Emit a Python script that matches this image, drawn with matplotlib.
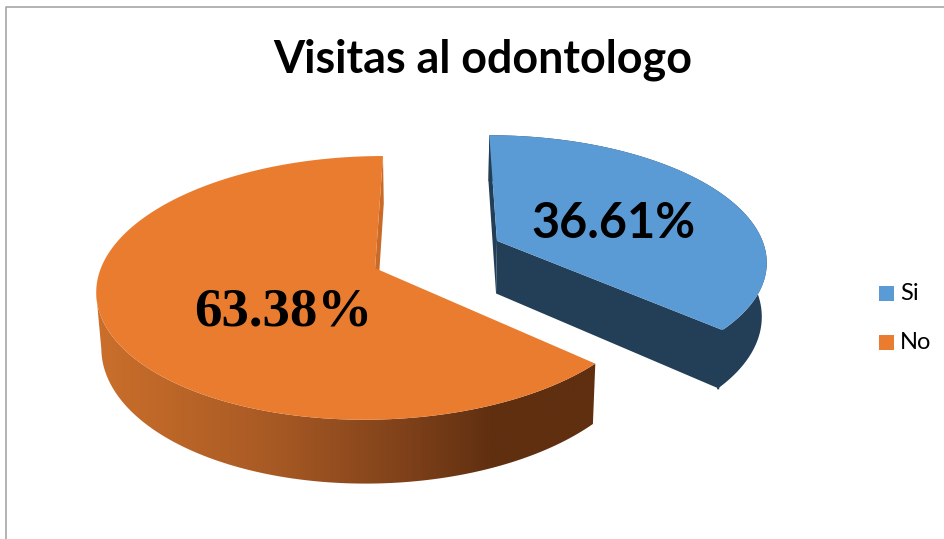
import numpy as np
import matplotlib
matplotlib.use('Agg')
import matplotlib.pyplot as plt
from matplotlib.colors import LinearSegmentedColormap
from matplotlib.patches import Polygon, Rectangle

title = 'Visitas al odontologo'
categories = ['Si', 'No']
values = [36.61, 63.38]
labels = ['36.61%', '63.38%']

blue = '#5B9BD5'
blue_dark = '#223F57'
orange = '#EA7C30'
orange_wall = '#C96A29'

# fake 3d: perspective view of a flat disc, everything in pixels
x0, y0 = 436, 255
rx, ry = 270, 125
k = 0.147
depth = 53.5
shrink = 0.985


def project(X, Y, lower=False):
    s = 1 / (1 - k * Y)
    x = X * s
    y = ry * Y * s
    if lower:
        x = x * shrink
        y = y + depth * s
    return x0 + x, y0 + y


def rim(apex, t1, t2, lower=False):
    t = np.radians(np.linspace(t1, t2, 200))
    return project(apex[0] + rx * np.sin(t), apex[1] - np.cos(t), lower)


def poly(xs, ys, color, z, lw=0.6):
    p = Polygon(np.column_stack([xs, ys]), closed=True, fc=color, ec=color, lw=lw, zorder=z)
    ax.add_patch(p)
    return p


fig = plt.figure(figsize=(9.44, 5.39), dpi=100)
ax = fig.add_axes([0, 0, 1, 1])
ax.set_xlim(0, 944)
ax.set_ylim(539, 0)
ax.axis('off')

ax.plot([6, 6, 944], [539, 7, 7], color='#A6A6A6', lw=1.2, zorder=1)

angle = 360 * values[0] / sum(values)
apex_si = (62, -0.115)
apex_no = (-60, 0.104)

# Si slice
ax_x, ax_y = project(*apex_si)
lx, ly = project(*apex_si, lower=True)
sx, sy = rim(apex_si, 0, angle)
sx2, sy2 = rim(apex_si, 0, angle, lower=True)
poly(np.r_[sx, sx2[::-1]], np.r_[sy, sy2[::-1]], blue_dark, 2, lw=0)
poly(np.r_[ax_x, sx[0], sx2[0], lx], np.r_[ax_y, sy[0], sy2[0], ly], blue_dark, 2, lw=0)
poly(np.r_[ax_x, sx[-1], sx2[-1], lx], np.r_[ax_y, sy[-1], sy2[-1], ly], blue_dark, 2, lw=0)
# hide the seam between the two dark faces
ax.plot([sx[-1], sx2[-1]], [sy[-1], sy2[-1]], color=blue_dark, lw=1.5, zorder=2)
poly(np.r_[ax_x, sx], np.r_[ax_y, sy], blue, 3, lw=0)

# No slice
ax_x, ax_y = project(*apex_no)
lx, ly = project(*apex_no, lower=True)
nx, ny = rim(apex_no, angle, 360)
nx2, ny2 = rim(apex_no, angle, 360, lower=True)
poly(np.r_[ax_x, nx[-1], nx2[-1], lx], np.r_[ax_y, ny[-1], ny2[-1], ly], orange_wall, 2, lw=0)
cut = nx.argmin() + 1
side = poly(np.r_[nx[:cut], nx2[:cut][::-1]], np.r_[ny[:cut], ny2[:cut][::-1]], 'none', 2, lw=0)
shade = LinearSegmentedColormap.from_list('side', [
    (0.0, '#CB6F2B'), (0.35, '#A85A24'), (0.62, '#7F411A'), (0.8, '#5F2F10'), (1.0, '#5F2F10')])
grad = ax.imshow(np.linspace(0, 1, 256).reshape(1, -1), cmap=shade, aspect='auto',
                 extent=[nx.min(), nx.max(), 539, 0], zorder=2)
grad.set_clip_path(side)
ax.set_xlim(0, 944)
ax.set_ylim(539, 0)
poly(np.r_[ax_x, nx], np.r_[ax_y, ny], orange, 3, lw=0)

ax.text(483, 60, title, ha='center', va='center', fontsize=32.3, fontweight='bold',
        family='Lato', color='black')
ax.text(613, 223, labels[0], ha='center', va='center', fontsize=35, fontweight='bold',
        family='Lato', color='black', zorder=5)
ax.text(283, 312, labels[1], ha='center', va='center', fontsize=39.5, fontweight='bold',
        family='Liberation Serif', color='black', zorder=5)

for name, color, y in zip(categories, [blue, orange], [293.5, 342.5]):
    ax.add_patch(Rectangle((879, y - 7.5), 15, 15, fc=color, ec='none', zorder=5))
    ax.text(900, y, name, ha='left', va='center', fontsize=17, family='Lato', color='black', zorder=5)

fig.savefig('out.png', dpi=100)
